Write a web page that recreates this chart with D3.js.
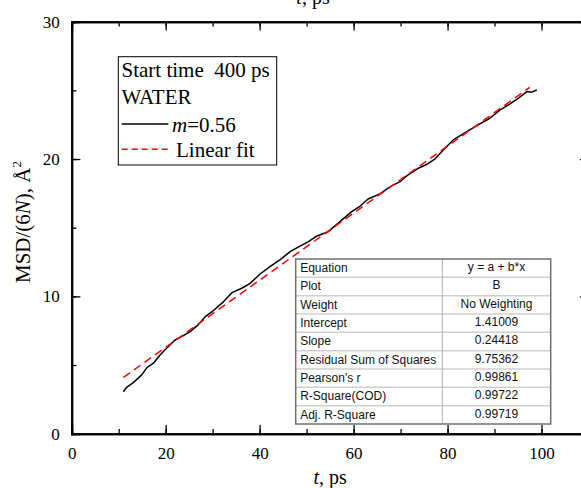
<!DOCTYPE html>
<html>
<head>
<meta charset="utf-8">
<script src="https://cdn.jsdelivr.net/npm/d3@7"></script>
<style>
  body { margin: 0; background: #fff; }
  svg { display: block; }
  svg text { white-space: pre; }
  .axis path, .axis line { stroke: #000; }
  .axis text { font-family: "Liberation Serif", "Times New Roman", serif; font-size: 17px; fill: #000; }
</style>
</head>
<body>
<div id="chart"></div>
<script>
// MSD curve
let timeValues = [11.0, 11.7, 13.1, 14.9, 16.0, 17.4, 18.8, 20.2, 22.0, 23.4, 25.2, 26.9, 28.5, 30.1, 32.3, 34.1,
    36.2, 38.0, 40.1, 42.2, 44.3, 46.5, 48.2, 50.4, 52.2, 54.6, 57.1, 59.6, 61.4, 63.1, 65.6, 67.8, 69.9, 71.3,
    73.8, 75.5, 77.3, 79.1, 81.2, 84.1, 86.5, 89.0, 91.2, 93.3, 95.1, 96.9, 97.9, 99.0];
let msdValues = [3.06, 3.38, 3.72, 4.28, 4.81, 5.13, 5.73, 6.22, 6.82, 7.07, 7.43, 7.92, 8.55, 8.95, 9.6, 10.27,
    10.59, 10.95, 11.63, 12.16, 12.65, 13.26, 13.58, 13.98, 14.4, 14.71, 15.44, 16.17, 16.58, 17.09, 17.46, 17.99, 18.35, 18.77,
    19.33, 19.6, 20.0, 20.66, 21.39, 22.0, 22.48, 22.97, 23.58, 24.01, 24.43, 24.91, 24.87, 25.03];

// linear fit
let fitIntercept = 1.41009;
let fitSlope = 0.24418;
let fitRange = [11.0, 97.5];

let xTicks = [0, 20, 40, 60, 80, 100];
let yTicks = [0, 10, 20, 30];

let legendLines = ['Start time  400 ps', 'WATER'];

let tableRows = [
    ['Equation', 'y = a + b*x'],
    ['Plot', 'B'],
    ['Weight', 'No Weighting'],
    ['Intercept', '1.41009'],
    ['Slope', '0.24418'],
    ['Residual Sum of Squares', '9.75362'],
    ["Pearson's r", '0.99861'],
    ['R-Square(COD)', '0.99722'],
    ['Adj. R-Square', '0.99719']
];

let svgWidth = 581;
let svgHeight = 488;
let serif = '"Liberation Serif", "Times New Roman", serif';
let sans = '"Liberation Sans", Arial, sans-serif';

let svg = d3.select('#chart').append('svg')
    .attr('width', svgWidth)
    .attr('height', svgHeight);

let x = d3.scaleLinear().domain([0, 110]).range([71.7, 588.5]);
let y = d3.scaleLinear().domain([0, 30]).range([433.7, 21.7]);

// minor ticks (no labels)
let minorX = d3.range(0, 111, 10);
let minorY = d3.range(0, 31, 5);

function addAxis(axis, transform) {
    let g = svg.append('g').attr('class', 'axis').attr('transform', transform).call(axis);
    g.select('.domain').attr('stroke-width', 2);
    g.selectAll('.tick line').attr('stroke-width', 1.3);
    return g;
}

// bottom
addAxis(d3.axisBottom(x).tickValues(minorX).tickSize(-4.7).tickFormat(''), 'translate(0,' + y(0) + ')');
addAxis(d3.axisBottom(x).tickValues(xTicks).tickSize(-8.7).tickPadding(13), 'translate(0,' + y(0) + ')');
// top
addAxis(d3.axisTop(x).tickValues(minorX).tickSize(-4.7).tickFormat(''), 'translate(0,' + y(30) + ')');
addAxis(d3.axisTop(x).tickValues(xTicks.concat([120])).tickSize(-8.7).tickFormat(''), 'translate(0,' + y(30) + ')');
// left
addAxis(d3.axisLeft(y).tickValues(minorY).tickSize(-4.7).tickFormat(''), 'translate(' + x(0) + ',0)');
addAxis(d3.axisLeft(y).tickValues(yTicks).tickSize(-8.7).tickPadding(12), 'translate(' + x(0) + ',0)');
// right
addAxis(d3.axisRight(y).tickValues(minorY).tickSize(-4.7).tickFormat(''), 'translate(' + x(110) + ',0)');
addAxis(d3.axisRight(y).tickValues(yTicks).tickSize(-8.7).tickFormat(''), 'translate(' + x(110) + ',0)');

svg.selectAll('.axis .tick text').attr('font-family', serif).attr('font-size', 17);

// axis titles
let xTitle = svg.append('text')
    .attr('x', x(55)).attr('y', 484)
    .attr('text-anchor', 'middle')
    .attr('font-family', serif).attr('font-size', 20);
xTitle.append('tspan').attr('font-style', 'italic').text('t');
xTitle.append('tspan').text(', ps');

// title of the panel above, cut off by the edge
let topTitle = svg.append('text')
    .attr('x', 313).attr('y', 4)
    .attr('text-anchor', 'middle')
    .attr('font-family', serif).attr('font-size', 20);
topTitle.append('tspan').attr('font-style', 'italic').text('t');
topTitle.append('tspan').text(', ps');

let yTitle = svg.append('text')
    .attr('transform', 'translate(30,' + 222 + ') rotate(-90)')
    .attr('text-anchor', 'middle')
    .attr('font-family', serif).attr('font-size', 21);
yTitle.append('tspan').text('MSD/(6');
yTitle.append('tspan').attr('font-style', 'italic').text('N');
yTitle.append('tspan').text('), Å');
yTitle.append('tspan').attr('font-size', 13).attr('dy', -9).text('2');

// data
let lineFunction = d3.line()
    .x(function (d) { return x(d.t); })
    .y(function (d) { return y(d.v); });

let msdData = timeValues.map(function (t, i) { return { t: t, v: msdValues[i] }; });
let fitData = fitRange.map(function (t) { return { t: t, v: fitIntercept + fitSlope * t }; });

svg.append('path')
    .attr('d', lineFunction(msdData))
    .attr('fill', 'none')
    .attr('stroke', '#000')
    .attr('stroke-width', 1.5)
    .attr('stroke-linejoin', 'round');

svg.append('path')
    .attr('d', lineFunction(fitData))
    .attr('fill', 'none')
    .attr('stroke', '#f00')
    .attr('stroke-width', 1.5)
    .attr('stroke-dasharray', '8,5');

// legend
let legend = svg.append('g');
legend.append('rect')
    .attr('x', 118.3).attr('y', 56.7)
    .attr('width', 158.4).attr('height', 108.3)
    .attr('fill', '#fff').attr('stroke', '#000').attr('stroke-width', 1);

legendLines.forEach(function (s, i) {
    legend.append('text')
        .attr('x', 121.5).attr('y', 77.3 + i * 26.7)
        .attr('font-family', serif).attr('font-size', 21)
        .text(s);
});

legend.append('line')
    .attr('x1', 121.7).attr('x2', 168.3).attr('y1', 124).attr('y2', 124)
    .attr('stroke', '#000').attr('stroke-width', 1.5);
let mLabel = legend.append('text')
    .attr('x', 172).attr('y', 131.7)
    .attr('font-family', serif).attr('font-size', 21);
mLabel.append('tspan').attr('font-style', 'italic').text('m');
mLabel.append('tspan').text('=0.56');

legend.append('line')
    .attr('x1', 121.7).attr('x2', 168.3).attr('y1', 149.3).attr('y2', 149.3)
    .attr('stroke', '#f00').attr('stroke-width', 1.5)
    .attr('stroke-dasharray', '6,4');
legend.append('text')
    .attr('x', 176).attr('y', 157.3)
    .attr('font-family', serif).attr('font-size', 21)
    .text('Linear fit');

// fit table
let tableLeft = 295.7, tableTop = 259, tableRight = 550.7, tableSplit = 442.3;
let rowHeight = 165 / tableRows.length;
let table = svg.append('g');
table.append('rect')
    .attr('x', tableLeft).attr('y', tableTop)
    .attr('width', tableRight - tableLeft).attr('height', rowHeight * tableRows.length)
    .attr('fill', '#fff');
table.selectAll('line.row')
    .data(d3.range(1, tableRows.length))
    .enter().append('line')
    .attr('x1', tableLeft).attr('x2', tableRight)
    .attr('y1', function (d) { return tableTop + d * rowHeight; })
    .attr('y2', function (d) { return tableTop + d * rowHeight; })
    .attr('stroke', '#cfcfcf').attr('stroke-width', 1.5);
table.append('line')
    .attr('x1', tableSplit).attr('x2', tableSplit)
    .attr('y1', tableTop).attr('y2', tableTop + rowHeight * tableRows.length)
    .attr('stroke', '#b0b0b0').attr('stroke-width', 1);
table.append('rect')
    .attr('x', tableLeft).attr('y', tableTop)
    .attr('width', tableRight - tableLeft).attr('height', rowHeight * tableRows.length)
    .attr('fill', 'none').attr('stroke', '#707070').attr('stroke-width', 1.5);

tableRows.forEach(function (r, i) {
    let by = tableTop + i * rowHeight + 13;
    table.append('text')
        .attr('x', tableLeft + 4.5).attr('y', by)
        .attr('font-family', sans).attr('font-size', 12).attr('fill', '#111')
        .text(r[0]);
    table.append('text')
        .attr('x', (tableSplit + tableRight) / 2).attr('y', by - 1)
        .attr('text-anchor', 'middle')
        .attr('font-family', sans).attr('font-size', 12).attr('fill', '#111')
        .text(r[1]);
});
</script>
</body>
</html>
